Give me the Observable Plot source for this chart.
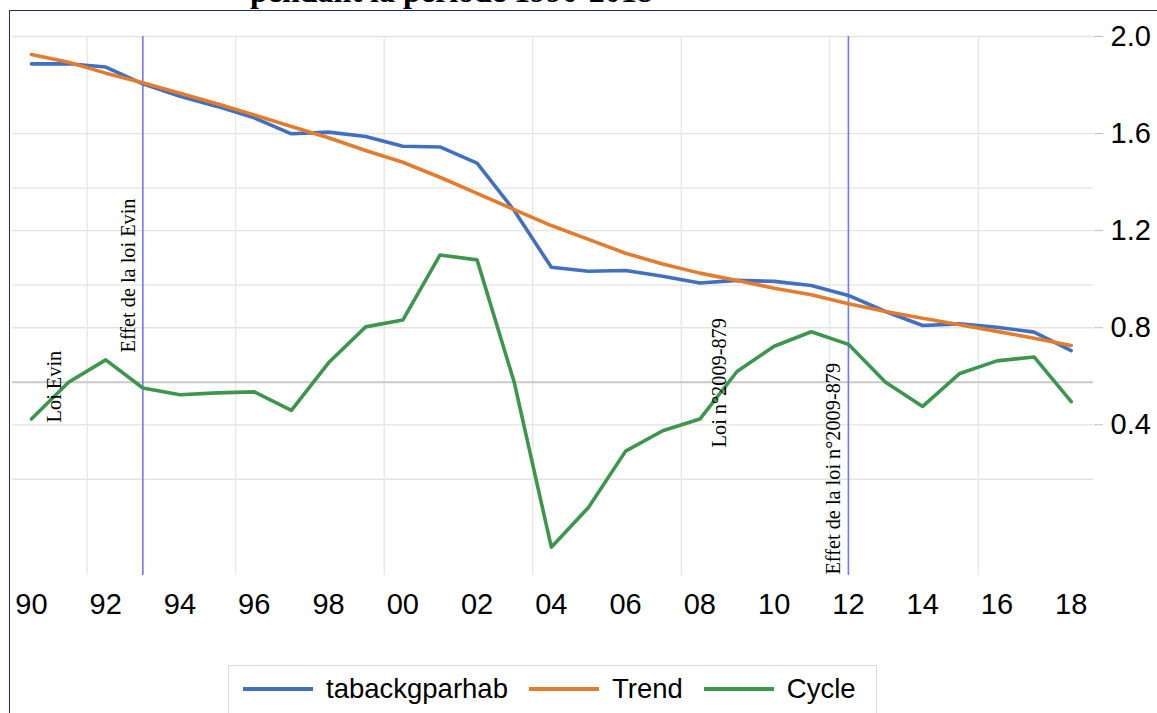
<!DOCTYPE html>
<html>
<head>
<meta charset="utf-8">
<script src="https://cdn.jsdelivr.net/npm/d3@7"></script>
<script src="https://cdn.jsdelivr.net/npm/@observablehq/plot@0.6"></script>
<style>
  html, body { margin: 0; padding: 0; background: #fff; }
  #wrap { position: relative; width: 1157px; height: 713px; overflow: hidden; background: #fff; }
  #frame { position: absolute; left: 9px; top: 10px; width: 1200px; height: 800px; border-left: 1.5px solid #1f2f60; border-top: 1.5px solid #1f2f60; box-sizing: border-box; pointer-events: none; }
  #title { position: absolute; left: 250px; top: -25px; font: bold 32px "Liberation Serif", "DejaVu Serif", serif; line-height: 1; color: #000; white-space: nowrap; }
  #chart { position: absolute; left: 0; top: 0; }
  #legend { position: absolute; left: 228px; top: 665px; width: 649px; height: 70px; border: 1px solid #d9d9d9; box-sizing: border-box; background: #fff;
            display: flex; align-items: flex-start; padding-top: 7px; padding-left: 14px; font: 27.5px "Liberation Sans", Arial, sans-serif; color: #000; }
  .item { display: flex; align-items: center; margin-right: 21px; }
  .sw { width: 70px; height: 4px; margin-right: 13px; }
</style>
</head>
<body>
<div id="wrap">
  <div id="title">pendant la période 1990-2018</div>
  <div id="chart"></div>
  <div id="frame"></div>
  <div id="legend"></div>
</div>
<script>
// ---- data ----
const years = [1990,1991,1992,1993,1994,1995,1996,1997,1998,1999,2000,2001,2002,2003,2004,2005,2006,2007,2008,2009,2010,2011,2012,2013,2014,2015,2016,2017,2018];
const tabackgparhab = [1.887,1.888,1.874,1.805,1.754,1.712,1.665,1.599,1.606,1.588,1.548,1.545,1.478,1.283,1.049,1.033,1.036,1.012,0.984,0.995,0.991,0.974,0.933,0.867,0.809,0.816,0.802,0.782,0.706];
const trend = [1.926,1.894,1.849,1.809,1.766,1.723,1.677,1.629,1.583,1.530,1.482,1.420,1.354,1.287,1.221,1.164,1.107,1.063,1.025,0.995,0.963,0.936,0.899,0.867,0.839,0.812,0.785,0.757,0.727];
const cycle = [-0.038,0.000,0.023,-0.006,-0.013,-0.011,-0.010,-0.029,0.020,0.057,0.064,0.131,0.126,0.000,-0.170,-0.129,-0.071,-0.050,-0.038,0.011,0.037,0.052,0.039,0.000,-0.025,0.009,0.022,0.026,-0.020];

const rightTicks = [0.4, 0.8, 1.2, 1.6, 2.0];
const cycleGrid = [-0.1, 0.1, 0.2];          // hidden left (Cycle) axis gridlines
const xTickYears = [1990,1992,1994,1996,1998,2000,2002,2004,2006,2008,2010,2012,2014,2016,2018];
const xGridYears = [1991.5,1995.5,1999.5,2003.5,2007.5,2011.5,2015.5];
const eventYears = [1993, 2012];
const notes = [
  {label: "Loi Evin", year: 1990.62, at: 0.410},
  {label: "Effet de la loi Evin", year: 1992.61, at: 0.698},
  {label: "Loi n°2009-879", year: 2008.53, at: 0.307},
  {label: "Effet de la loi n°2009-879", year: 2011.6, at: -0.217}
];
const seriesNames = ["tabackgparhab", "Trend", "Cycle"];
const seriesColors = ["#4171be", "#e27c2f", "#3d954e"];

// Cycle is drawn on a secondary (left, hidden) axis: linear link to the right axis
const cycleOffset = 0.5756, cycleRatio = 4.0;
const cycleToRight = c => cycleOffset + cycleRatio * c;

const rows = years.map((yr, i) => ({year: yr, tab: tabackgparhab[i], trend: trend[i], cycle: cycle[i]}));

const yMin = -0.2209, yMax = 2.0;

const plot = Plot.plot({
  width: 1157,
  height: 640,
  marginTop: 36,
  marginBottom: 65,
  marginLeft: 12,
  marginRight: 64,
  style: {fontFamily: "'Liberation Sans', Arial, sans-serif", fontSize: "29px", background: "transparent", color: "#000"},
  x: {domain: [1989.49, 2018.6], label: null},
  y: {domain: [yMin, yMax], label: null},
  marks: [
    Plot.ruleY(rightTicks, {stroke: "#e3e3e3", strokeWidth: 1.3}),
    Plot.ruleY(cycleGrid, {y: d => cycleToRight(d), stroke: "#e3e3e3", strokeWidth: 1.3}),
    Plot.ruleX(xGridYears, {stroke: "#e6e6e6", strokeWidth: 1.3}),
    Plot.ruleY([0], {y: d => cycleToRight(d), stroke: "#c9c9c9", strokeWidth: 2}),
    Plot.ruleX(eventYears, {y1: yMin, y2: yMax, stroke: "#7575ff", strokeWidth: 1.6}),
    Plot.lineY(rows, {x: "year", y: "tab", stroke: seriesColors[0], strokeWidth: 3.6}),
    Plot.lineY(rows, {x: "year", y: "trend", stroke: seriesColors[1], strokeWidth: 3.6}),
    Plot.lineY(rows, {x: "year", y: d => cycleToRight(d.cycle), stroke: seriesColors[2], strokeWidth: 3.6}),
    Plot.text(notes, {x: "year", y: "at", text: "label", rotate: -90, textAnchor: "start",
                      fontFamily: "'Liberation Serif', 'Times New Roman', serif", fontSize: 20.3, fill: "#000"}),
    Plot.axisX({ticks: xTickYears, tickFormat: d => String(d % 100).padStart(2, "0"), tickSize: 0, tickPadding: 18, fontSize: 29, label: null}),
    Plot.axisY({anchor: "right", ticks: rightTicks, tickFormat: d => d.toFixed(1), tickSize: 9, tickPadding: 8, stroke: "#bfbfbf", fill: "#000", fontSize: 29, label: null})
  ]
});
document.getElementById("chart").appendChild(plot);

// legend
const lg = document.getElementById("legend");
seriesNames.forEach((name, i) => {
  const it = document.createElement("div");
  it.className = "item";
  const sw = document.createElement("div");
  sw.className = "sw";
  sw.style.background = seriesColors[i];
  const tx = document.createElement("span");
  tx.textContent = name;
  it.appendChild(sw); it.appendChild(tx);
  lg.appendChild(it);
});
</script>
</body>
</html>
